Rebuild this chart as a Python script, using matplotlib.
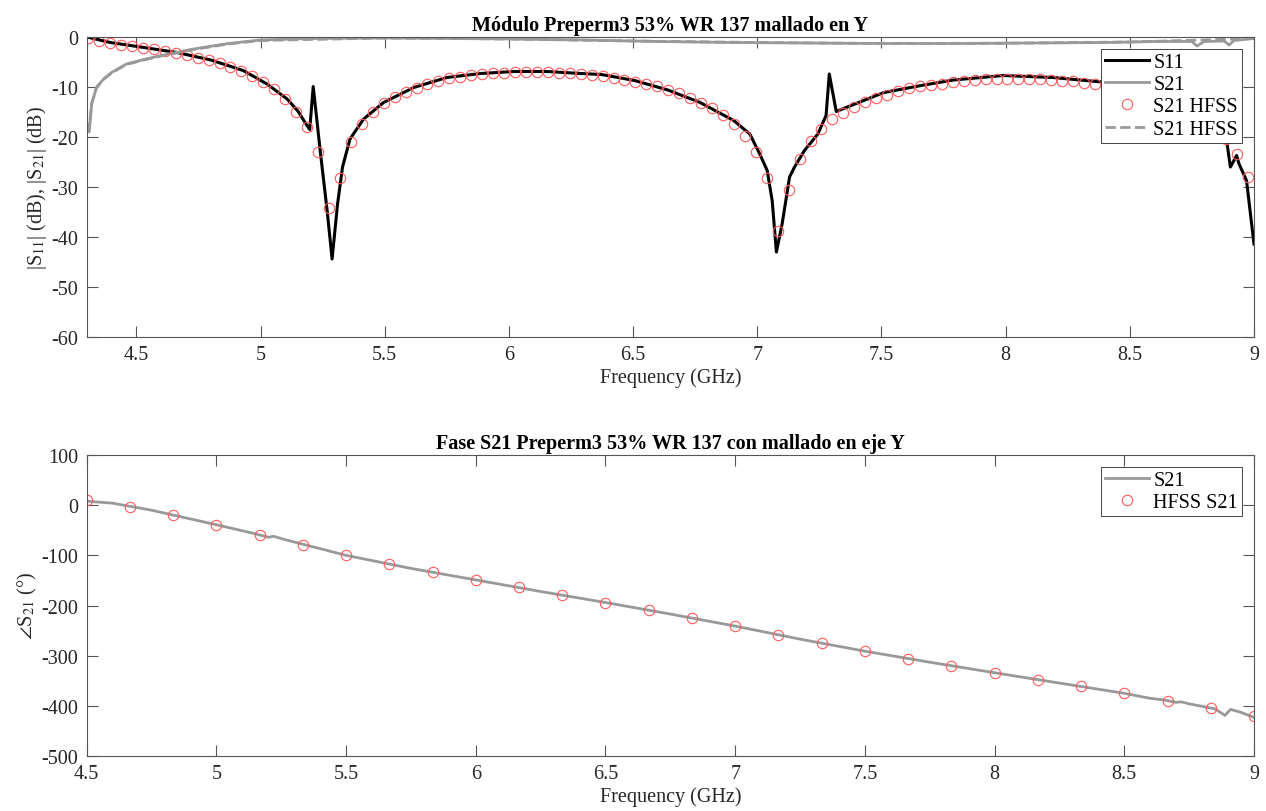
import matplotlib
matplotlib.use('Agg')
import matplotlib.pyplot as plt
import numpy as np

plt.rcParams['font.family'] = ['Liberation Serif', 'DejaVu Serif']
plt.rcParams['mathtext.fontset'] = 'stix'
plt.rcParams['axes.unicode_minus'] = False

# ---- datos modulo ----
s11_f = [4.30, 4.31, 4.395, 4.53, 4.664, 4.80, 4.93, 5.026, 5.107, 5.15, 5.187, 5.198, 5.212,
         5.24, 5.268, 5.288, 5.31, 5.33, 5.36, 5.415, 5.495, 5.617, 5.75, 5.885, 6.02, 6.153,
         6.29, 6.372, 6.506, 6.64, 6.77, 6.905, 6.97, 7.01, 7.04, 7.06, 7.077, 7.10, 7.13,
         7.15, 7.19, 7.244, 7.277, 7.29, 7.318, 7.378, 7.51, 7.66, 7.79, 7.99, 8.19, 8.41,
         8.5, 8.6, 8.7, 8.8, 8.86, 8.89, 8.905, 8.93, 8.94, 8.97, 9.0]
s11_db = [0, -0.1, -1.1, -2.1, -3.1, -4.6, -6.7, -9.4, -12.4, -14.8, -17.7, -18.5, -9.9,
          -22.7, -34.7, -44.4, -33.4, -26, -20.4, -16.4, -13.1, -10.1, -8.1, -7.3, -6.9, -6.9,
          -7.3, -7.5, -8.7, -10.6, -13.1, -16.7, -19.4, -23.4, -26.7, -32.7, -43, -37.4, -28,
          -26, -22.7, -19.4, -15.7, -7.4, -14.9, -13.7, -11.1, -9.7, -8.6, -7.7, -8.1, -9.1,
          -9.5, -10.3, -11.5, -13.5, -16, -20.7, -26, -23.7, -25.4, -28.7, -41.4]

s21_f = [4.30, 4.31, 4.32, 4.34, 4.37, 4.40, 4.46, 4.53, 4.60, 4.73, 4.87, 5.0, 5.2, 5.5,
         5.8, 6.0, 6.3, 6.6, 6.9, 7.2, 7.5, 7.8, 8.1, 8.4, 8.6, 8.75, 8.77, 8.8, 8.88, 8.9,
         8.92, 9.0]
s21_db = [-17, -19, -13.4, -10, -8.3, -7.1, -5.4, -4.5, -3.7, -2.4, -1.3, -0.6, -0.3, -0.2,
          -0.3, -0.4, -0.6, -0.9, -1.1, -1.2, -1.3, -1.3, -1.2, -1.1, -0.9, -0.9, -1.8, -0.9,
          -0.8, -1.6, -0.7, -0.3]

# S21 HFSS (linea discontinua, casi superpuesta a S21)
s21_hfss_f = [4.30, 4.31, 4.32, 4.34, 4.37, 4.40, 4.46, 4.53, 4.60, 4.73, 4.87, 5.0, 5.5,
              6.0, 6.5, 7.0, 7.5, 8.0, 8.5, 9.0]
s21_hfss_db = [-17.5, -18.5, -13.2, -10.1, -8.4, -7.2, -5.5, -4.6, -3.8, -2.5, -1.4, -0.7,
               -0.2, -0.4, -0.8, -1.1, -1.3, -1.25, -1.0, -0.3]

# S21 HFSS (circulos)
hfss_f = np.linspace(4.306, 8.977, 107)
hfss_db = [-0.1, -0.7, -1.1, -1.5, -1.8, -2.1, -2.4, -2.7, -3.1, -3.5,
           -4.1, -4.6, -5.2, -5.9, -6.7, -7.7, -8.9, -10.4, -12.4, -14.9,
           -17.9, -22.9, -34.1, -28.1, -20.9, -17.3, -14.9, -13.2, -11.9, -10.9,
           -10.1, -9.3, -8.7, -8.2, -7.9, -7.5, -7.3, -7.2, -7.1, -6.9,
           -6.9, -6.9, -6.9, -7.1, -7.2, -7.4, -7.6, -7.7, -8.1, -8.6,
           -8.9, -9.3, -9.8, -10.5, -11.2, -12.1, -13.1, -14.2, -15.6, -17.3,
           -19.7, -22.9, -28.2, -38.7, -30.5, -24.3, -20.7, -18.3, -16.4, -15.1,
           -13.9, -12.9, -12.1, -11.5, -10.7, -10.2, -9.7, -9.6, -9.3, -8.9,
           -8.7, -8.5, -8.4, -8.3, -8.3, -8.3, -8.4, -8.4, -8.5, -8.7,
           -8.8, -9.2, -9.3, -9.7, -10.1, -10.5, -11.0, -11.6, -12.4, -13.4,
           -14.6, -16.0, -17.4, -19.0, -20.4, -23.3, -27.9]

# ---- datos fase ----
fase_f = [4.5, 4.6, 4.75, 5.0, 5.15, 5.2, 5.22, 5.26, 5.5, 5.75, 6.0, 6.25, 6.5, 6.75, 7.0,
          7.25, 7.5, 7.75, 8.0, 8.214, 8.5, 8.6, 8.65, 8.7, 8.72, 8.75, 8.8, 8.85, 8.888,
          8.91, 8.95, 9.0]
fase = [8, 4, -10, -39, -57, -64, -62, -68, -100, -126, -149, -172, -194, -217, -241,
        -267, -291, -313, -334, -351.6, -375, -385, -388, -393, -392, -396, -401, -406, -419,
        -407, -413, -423]

fase_hfss_f = np.linspace(4.5, 9.0, 28)
fase_hfss = [10, -3, -19.5, -39, -59, -80, -100, -118, -134, -149, -164, -179, -194, -209,
             -225, -241, -258, -275, -291, -306, -320, -334, -348, -361, -375, -390, -405, -421]

gris = '#999999'
rojo = '#ff5a5a'
ejes = '#555555'
txt = '#262626'

fig = plt.figure(figsize=(12.66, 8.12), dpi=100)
ax1 = fig.add_axes([0.0685, 0.5837, 0.922, 0.3695])
ax2 = fig.add_axes([0.0685, 0.0677, 0.922, 0.3707])

def estilo(ax):
    for s in ax.spines.values():
        s.set_color(ejes)
        s.set_linewidth(0.8)
    ax.tick_params(direction='in', length=8, width=0.8, color=ejes, labelcolor=txt,
                   labelsize=14.5, top=True, right=True, pad=6)

# modulo
ax1.plot(s11_f, s11_db, color='black', lw=2.2, label='S11')
ax1.plot(s21_f, s21_db, color=gris, lw=2.0, label='S21')
ax1.plot(hfss_f, hfss_db, 'o', mfc='none', mec=rojo, mew=0.8, ms=7.5, label='S21 HFSS')
ax1.plot(s21_hfss_f, s21_hfss_db, '--', color=gris, lw=2.0, label='S21 HFSS')
ax1.set_xlim(4.3, 9)
ax1.set_ylim(-60, 0)
ax1.set_xticks([4.5, 5, 5.5, 6, 6.5, 7, 7.5, 8, 8.5, 9])
ax1.set_xticklabels(['4.5', '5', '5.5', '6', '6.5', '7', '7.5', '8', '8.5', '9'])
ax1.set_yticks(np.arange(-60, 1, 10))
estilo(ax1)
ax1.set_xlabel('Frequency (GHz)', fontsize=14.5, color=txt, labelpad=2)
ax1.set_ylabel(r'|S$_{11}$| (dB), |S$_{21}$| (dB)', fontsize=14.5, color=txt, labelpad=2)
ax1.set_title('Módulo Preperm3 53% WR 137 mallado en Y', fontsize=14.5, fontweight='bold',
              pad=5)
leg1 = ax1.legend(loc='upper right', fontsize=14.5, frameon=True, fancybox=False,
                  framealpha=1, edgecolor=txt, borderaxespad=0.6, handlelength=2.2,
                  handletextpad=0.2, labelspacing=0.15, borderpad=0.2)
leg1.get_frame().set_linewidth(0.6)

# fase
ax2.plot(fase_f, fase, color=gris, lw=2.0, label='S21')
ax2.plot(fase_hfss_f, fase_hfss, 'o', mfc='none', mec=rojo, mew=0.8, ms=7.5,
         label='HFSS S21')
ax2.set_xlim(4.5, 9)
ax2.set_ylim(-500, 100)
ax2.set_xticks([4.5, 5, 5.5, 6, 6.5, 7, 7.5, 8, 8.5, 9])
ax2.set_xticklabels(['4.5', '5', '5.5', '6', '6.5', '7', '7.5', '8', '8.5', '9'])
ax2.set_yticks(np.arange(-500, 101, 100))
estilo(ax2)
ax2.set_xlabel('Frequency (GHz)', fontsize=14.5, color=txt, labelpad=2)
ax2.set_ylabel(r'$\angle$S$_{21}$ (°)', fontsize=14.5, color=txt, labelpad=2)
ax2.set_title('Fase S21 Preperm3 53% WR 137 con mallado en eje Y', fontsize=14.5,
              fontweight='bold', pad=5)
leg2 = ax2.legend(loc='upper right', fontsize=14.5, frameon=True, fancybox=False,
                  framealpha=1, edgecolor=txt, borderaxespad=0.6, handlelength=2.2,
                  handletextpad=0.2, labelspacing=0.15, borderpad=0.2)
leg2.get_frame().set_linewidth(0.6)

fig.savefig('out.png', dpi=100)
